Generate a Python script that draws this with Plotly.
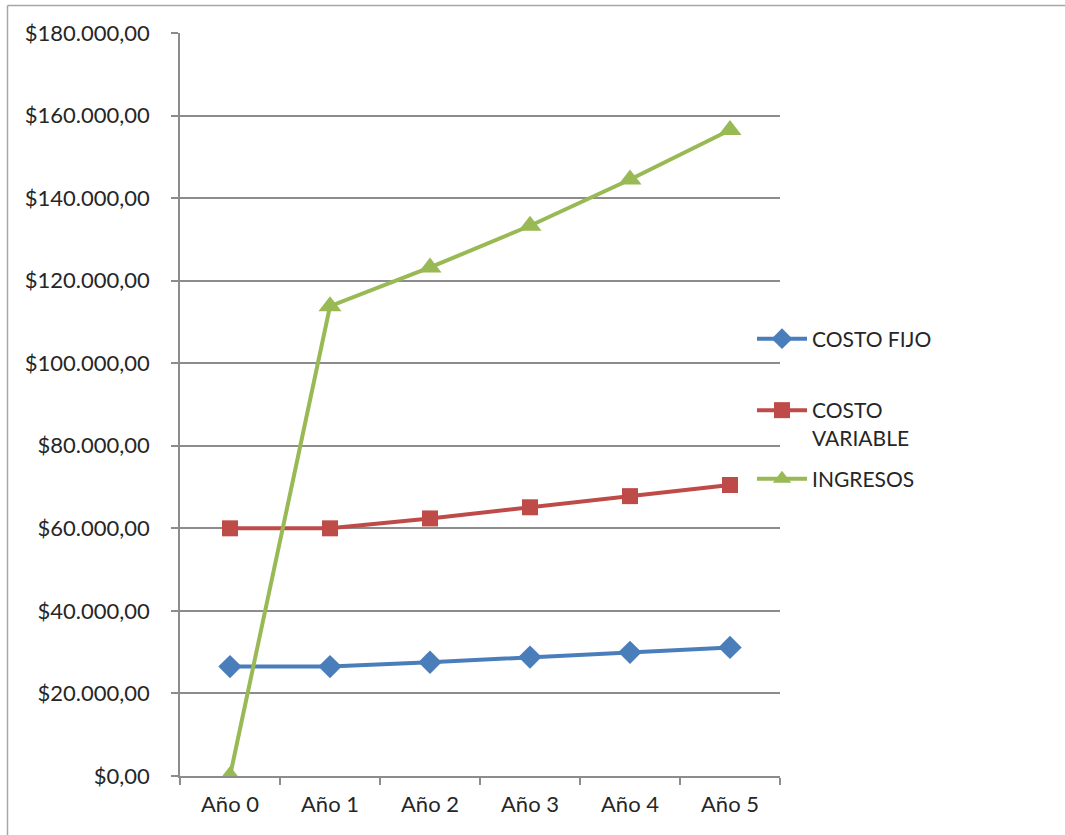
import plotly.graph_objects as go

categories = ["Año 0", "Año 1", "Año 2", "Año 3", "Año 4", "Año 5"]
costo_fijo = [26500, 26500, 27550, 28800, 29950, 31150]
costo_variable = [60000, 60000, 62400, 65100, 67800, 70500]
ingresos = [0, 113800, 123200, 133300, 144500, 156500]
y_ticks = [0, 20000, 40000, 60000, 80000, 100000, 120000, 140000, 160000, 180000]
y_tick_labels = ["$0,00", "$20.000,00", "$40.000,00", "$60.000,00", "$80.000,00",
                 "$100.000,00", "$120.000,00", "$140.000,00", "$160.000,00", "$180.000,00"]

FONT = "Lato"
TXT = "#262626"
GRID = "#8c8c8c"

L, R, T, B = 180, 285, 33, 59
W, H = 1065, 835
PW, PH = W - L - R, H - T - B

def px_x(p):
    return (p - L) / PW

def px_y(p):
    return (H - B - p) / PH

fig = go.Figure()
series = [
    ("COSTO FIJO", costo_fijo, "#4A7EBB", "diamond", 18, "legend"),
    ("COSTO<br>VARIABLE", costo_variable, "#BE4B48", "square", 16, "legend2"),
    ("INGRESOS", ingresos, "#98B954", "triangle-up", 20, "legend3"),
]
for name, vals, col, sym, sz, lg in series:
    fig.add_trace(go.Scatter(
        x=categories, y=vals, name=name, mode="lines+markers",
        line=dict(color=col, width=4),
        marker=dict(symbol=sym, size=sz, color=col, line=dict(width=0)),
        legend=lg,
    ))

legend_common = dict(font=dict(family=FONT, size=21, color=TXT), bgcolor="rgba(0,0,0,0)",
                     xanchor="left", yanchor="middle", valign="top", itemwidth=50)
lx = px_x(752)

fig.update_layout(
    width=W, height=H,
    margin=dict(l=L, r=R, t=T, b=B),
    paper_bgcolor="white", plot_bgcolor="white",
    font=dict(family=FONT, size=21, color=TXT),
    showlegend=True,
    legend=dict(x=lx, y=px_y(339), **legend_common),
    legend2=dict(x=lx, y=px_y(424), **legend_common),
    legend3=dict(x=lx, y=px_y(479), **legend_common),
    xaxis=dict(
        type="category", range=[-0.5, 5.5],
        showgrid=False, showline=True, linecolor=GRID, linewidth=1.5,
        ticks="outside", tickson="boundaries", ticklen=7, tickcolor=GRID, tickwidth=1.5,
        tickfont=dict(family=FONT, size=22, color=TXT), ticklabelstandoff=8,
    ),
    yaxis=dict(
        range=[0, 180000], tickvals=y_ticks, ticktext=y_tick_labels,
        showgrid=True, gridcolor=GRID, gridwidth=1.5,
        showline=True, linecolor=GRID, linewidth=1.5,
        ticks="outside", ticklen=7, tickcolor=GRID, tickwidth=1.5,
        tickfont=dict(family=FONT, size=22, color=TXT),
        zeroline=False, ticklabelstandoff=17,
    ),
    shapes=[
        dict(type="line", xref="paper", yref="paper", x0=px_x(7.5), x1=px_x(1070),
             y0=px_y(5.5), y1=px_y(5.5), line=dict(color="#a6a6a6", width=1.5)),
        dict(type="line", xref="paper", yref="paper", x0=px_x(7.5), x1=px_x(7.5),
             y0=px_y(5.5), y1=px_y(840), line=dict(color="#a6a6a6", width=1.5)),
    ],
)

fig.write_html("out.html")
